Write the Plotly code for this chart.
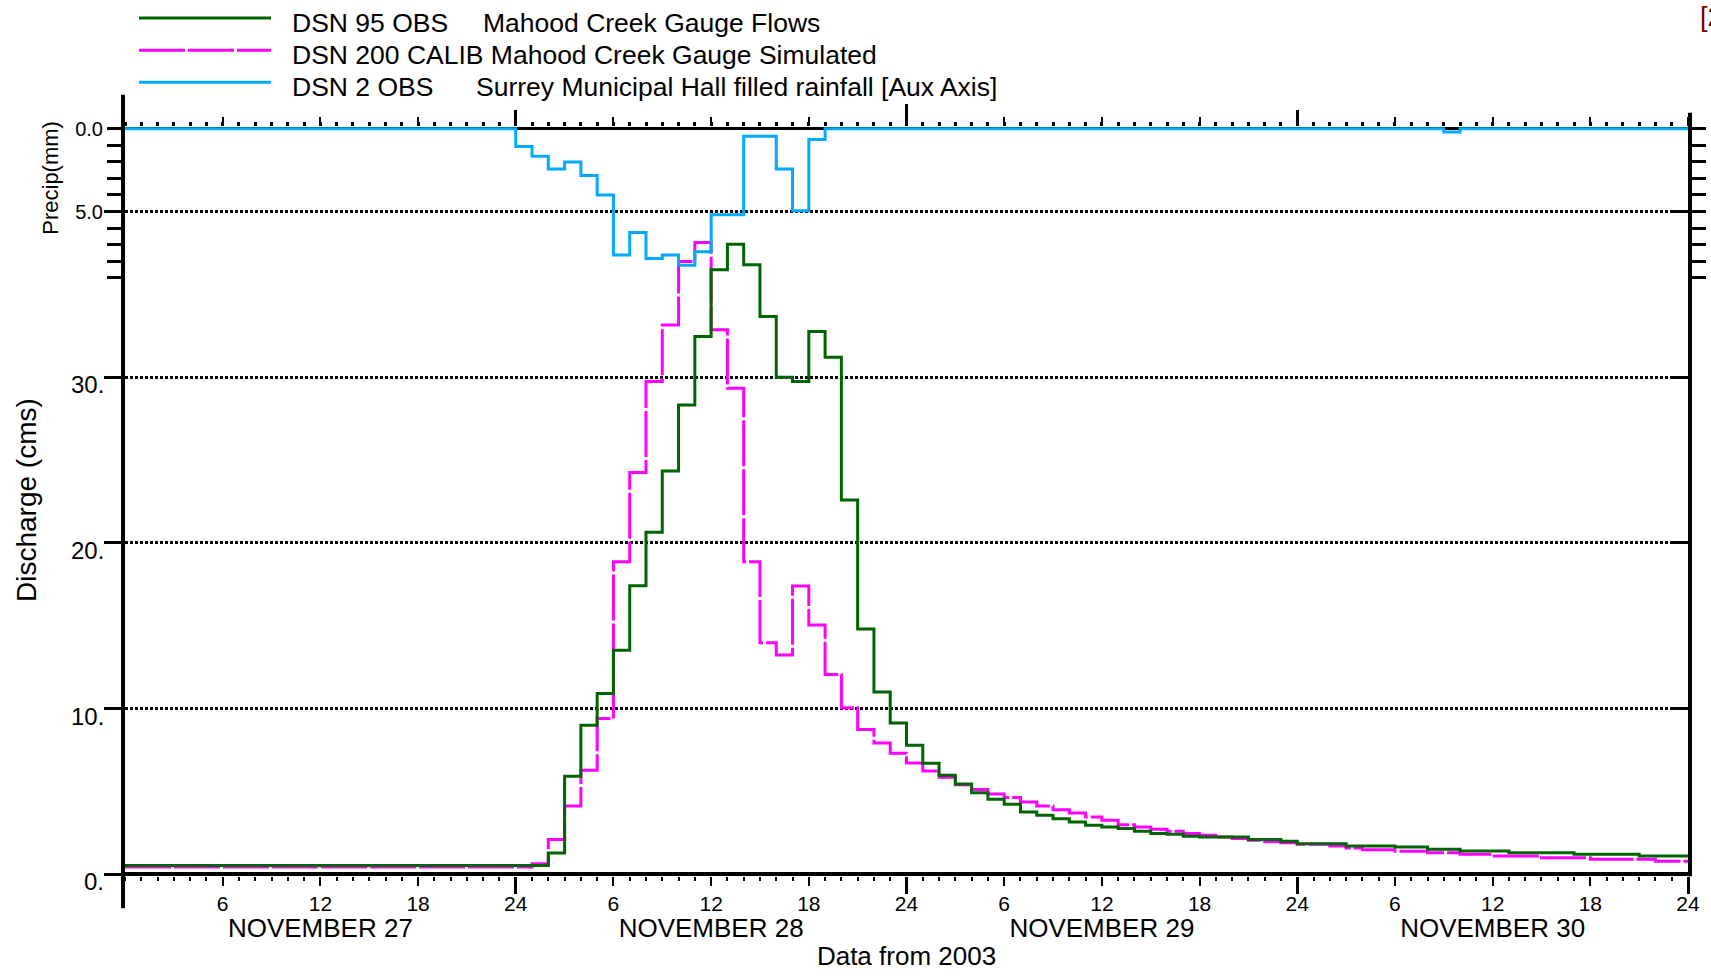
import plotly.graph_objects as go

# ---------------- data (hourly, Nov 27 00:00 -> Nov 30 24:00, 2003) ----------------
hour_edges = list(range(0, 97))  # start of each hourly interval + final edge

obs_flow = [  # DSN 95 OBS  Mahood Creek Gauge Flows (cms)
    0.54, 0.54, 0.54, 0.54, 0.54, 0.54, 0.54, 0.54, 0.54, 0.54, 0.54, 0.54,
    0.54, 0.54, 0.54, 0.54, 0.54, 0.54, 0.54, 0.54, 0.54, 0.54, 0.54, 0.54,
    0.54, 0.54, 1.29, 5.92, 9.00, 10.91, 13.53, 17.42, 20.64, 24.34, 28.33, 32.45,
    36.48, 38.03, 36.78, 33.66, 30.00, 29.74, 32.76, 31.20, 22.59, 14.80, 11.00, 9.14,
    7.79, 6.70, 5.98, 5.45, 4.92, 4.53, 4.23, 3.76, 3.56, 3.36, 3.16, 2.96,
    2.86, 2.76, 2.60, 2.46, 2.42, 2.30, 2.26, 2.26, 2.26, 2.10, 2.10, 2.00,
    1.85, 1.85, 1.85, 1.71, 1.71, 1.71, 1.65, 1.65, 1.51, 1.51, 1.41, 1.41,
    1.41, 1.31, 1.31, 1.31, 1.31, 1.21, 1.21, 1.21, 1.21, 1.11, 1.11, 1.11,
]

sim_flow = [  # DSN 200 CALIB Mahood Creek Gauge Simulated (cms)
    0.44, 0.44, 0.44, 0.44, 0.44, 0.44, 0.44, 0.44, 0.44, 0.44, 0.44, 0.44,
    0.44, 0.44, 0.44, 0.44, 0.44, 0.44, 0.44, 0.44, 0.44, 0.44, 0.44, 0.44,
    0.44, 0.64, 2.11, 4.13, 6.28, 9.40, 18.86, 24.25, 29.74, 33.15, 36.98, 38.13,
    32.86, 29.33, 18.86, 13.97, 13.23, 17.40, 15.04, 12.06, 10.05, 8.74, 7.93, 7.31,
    6.72, 6.23, 5.86, 5.40, 5.12, 4.85, 4.63, 4.37, 4.13, 3.90, 3.70, 3.46,
    3.26, 3.00, 2.86, 2.72, 2.60, 2.46, 2.36, 2.26, 2.16, 2.06, 1.97, 1.90,
    1.81, 1.81, 1.71, 1.59, 1.49, 1.49, 1.39, 1.39, 1.31, 1.31, 1.21, 1.21,
    1.11, 1.11, 1.11, 1.00, 1.00, 1.00, 0.91, 0.91, 0.91, 0.91, 0.79, 0.79,
]

rain_mm = [  # DSN 2 OBS  Surrey Municipal Hall filled rainfall (mm)
    0, 0, 0, 0, 0, 0, 0, 0, 0, 0, 0, 0,
    0, 0, 0, 0, 0, 0, 0, 0, 0, 0, 0, 0,
    1.07, 1.67, 2.44, 2.01, 2.82, 4.00, 7.63, 6.26, 7.83, 7.63, 8.24, 7.43,
    5.19, 5.19, 0.46, 0.46, 2.44, 4.95, 0.66, 0, 0, 0, 0, 0,
    0, 0, 0, 0, 0, 0, 0, 0, 0, 0, 0, 0,
    0, 0, 0, 0, 0, 0, 0, 0, 0, 0, 0, 0,
    0, 0, 0, 0, 0, 0, 0, 0, 0, 0.20, 0, 0,
    0, 0, 0, 0, 0, 0, 0, 0, 0, 0, 0, 0,
]

series_names = [
    ("DSN 95 OBS", "Mahood Creek Gauge Flows"),
    ("DSN 200 CALIB Mahood Creek Gauge Simulated", ""),
    ("DSN 2 OBS", "Surrey Municipal Hall filled rainfall [Aux Axis]"),
]
hour_ticks = [6, 12, 18, 24, 30, 36, 42, 48, 54, 60, 66, 72, 78, 84, 90, 96]
hour_tick_text = ["6", "12", "18", "24"] * 4
day_ticks = [12, 36, 60, 84]
day_labels = ["NOVEMBER 27", "NOVEMBER 28", "NOVEMBER 29", "NOVEMBER 30"]
q_ticks = [0, 10, 20, 30]
q_tick_text = ["0.", "10.", "20.", "30."]
p_ticks = [0, 1, 2, 3, 4, 5, 6, 7, 8, 9]
p_tick_text = ["0.0", "", "", "", "", "5.0", "", "", "", ""]

# ---------------- styling ----------------
FONT = "Liberation Sans, Arial, Helvetica, sans-serif"
GREEN = "#006400"
MAGENTA = "#FF00FF"
BLUE = "#00AAFF"
DASH = "46px,3px"
W, H = 1711, 976
L, R, T, B = 125, 23, 127.3, 100.3
PW, PH = W - L - R, H - T - B


def px(x):
    return (x - L) / PW


def py(y):
    return (H - B - y) / PH


def ext(v):
    return list(v) + [v[-1]]


fig = go.Figure()
fig.add_trace(go.Scatter(x=hour_edges, y=ext(sim_flow), mode="lines", line_shape="hv",
                         name=series_names[1][0],
                         line=dict(color=MAGENTA, width=3, dash=DASH), xaxis="x", yaxis="y"))
fig.add_trace(go.Scatter(x=hour_edges, y=ext(obs_flow), mode="lines", line_shape="hv",
                         name=" ".join(series_names[0]),
                         line=dict(color=GREEN, width=3), xaxis="x", yaxis="y"))
fig.add_trace(go.Scatter(x=hour_edges, y=ext(rain_mm), mode="lines", line_shape="hv",
                         name=" ".join(series_names[2]),
                         line=dict(color=BLUE, width=3), xaxis="x", yaxis="y2"))

base_x = dict(range=[0, 96], showgrid=False, zeroline=False, showline=False, automargin=False,
              fixedrange=True)
Q_RANGE = [-0.1, 45.1]
P_RANGE = [45.1, -0.1]

fig.update_layout(
    width=W, height=H, autosize=False,
    margin=dict(l=L, r=R, t=T, b=B, pad=0),
    paper_bgcolor="white", plot_bgcolor="white",
    showlegend=False,
    font=dict(family=FONT, color="black"),
    xaxis=dict(**base_x, anchor="y", side="bottom",
               tickmode="array", tickvals=hour_ticks, ticktext=hour_tick_text,
               ticks="outside", ticklen=9, tickwidth=2, tickcolor="black",
               tickfont=dict(size=21), ticklabelstandoff=0,
               minor=dict(tickmode="linear", tick0=0, dtick=1, ticks="outside",
                          ticklen=4, tickwidth=2, tickcolor="black")),
    xaxis2=dict(**base_x, overlaying="x", anchor="y", side="bottom",
                tickmode="array", tickvals=[24, 48, 72, 96], ticks="outside",
                ticklen=17, tickwidth=3, tickcolor="black", showticklabels=False),
    xaxis3=dict(**base_x, overlaying="x", anchor="y", side="bottom",
                tickmode="array", tickvals=day_ticks, ticktext=day_labels, ticks="",
                tickfont=dict(size=26), ticklabelstandoff=34,
                title=dict(text="Data from 2003", font=dict(size=26), standoff=4)),
    xaxis4=dict(**base_x, overlaying="x", anchor="y", side="top",
                tickmode="array", tickvals=hour_ticks, ticks="outside",
                ticklen=9, tickwidth=2, tickcolor="black", showticklabels=False,
                minor=dict(tickmode="linear", tick0=0, dtick=1, ticks="outside",
                           ticklen=4, tickwidth=3, tickcolor="black")),
    xaxis5=dict(**base_x, overlaying="x", anchor="y", side="top",
                tickmode="array", tickvals=[24, 72], ticks="outside",
                ticklen=16, tickwidth=3, tickcolor="black", showticklabels=False),
    xaxis6=dict(**base_x, overlaying="x", anchor="y", side="top",
                tickmode="array", tickvals=[48], ticks="outside",
                ticklen=22, tickwidth=3, tickcolor="black", showticklabels=False),
    yaxis=dict(range=Q_RANGE, anchor="x", side="left", automargin=False, fixedrange=True,
               showline=True, linewidth=4, linecolor="black",
               tickmode="array", tickvals=q_ticks + [40], ticks="outside",
               ticklen=17, tickwidth=3, tickcolor="black", showticklabels=False,
               showgrid=True, gridcolor="black", gridwidth=2.5, griddash="3px,2px",
               zeroline=True, zerolinecolor="black", zerolinewidth=4),
    yaxis2=dict(range=P_RANGE, overlaying="y", anchor="x", side="left", automargin=False,
                fixedrange=True, showline=False, showgrid=False,
                tickmode="array", tickvals=p_ticks, ticktext=p_tick_text,
                ticks="outside", ticklen=17, tickwidth=3, tickcolor="black",
                tickfont=dict(size=20),
                zeroline=True, zerolinecolor="black", zerolinewidth=3),
    yaxis3=dict(range=Q_RANGE, overlaying="y", anchor="x", side="right", automargin=False,
                fixedrange=True, showline=True, linewidth=4, linecolor="black",
                showgrid=False, zeroline=False,
                tickmode="array", tickvals=[10, 20, 30, 40], ticks="inside",
                ticklen=17, tickwidth=3, tickcolor="black", showticklabels=False),
    yaxis4=dict(range=P_RANGE, overlaying="y", anchor="x", side="right", automargin=False,
                fixedrange=True, showline=False, showgrid=False, zeroline=False,
                tickmode="array", tickvals=p_ticks, ticks="outside",
                ticklen=17, tickwidth=3, tickcolor="black", showticklabels=False),
)

# invisible traces to activate overlay axes
for ax in ["x2", "x3", "x4", "x5", "x6"]:
    fig.add_trace(go.Scatter(x=[None], y=[None], xaxis=ax, yaxis="y", showlegend=False,
                             hoverinfo="skip"))
for ay in ["y3", "y4"]:
    fig.add_trace(go.Scatter(x=[None], y=[None], xaxis="x", yaxis=ay, showlegend=False,
                             hoverinfo="skip"))

annotations = []
# discharge tick labels (top-aligned with their ticks)
for v, t in zip(q_ticks, q_tick_text):
    annotations.append(dict(xref="paper", x=0, xanchor="right", xshift=-19,
                            yref="y", y=v, yanchor="top", yshift=8,
                            text=t, showarrow=False, font=dict(size=24)))
annotations.append(dict(xref="paper", x=px(27), yref="paper", y=py(500), text="Discharge (cms)",
                        textangle=-90, showarrow=False, font=dict(size=28),
                        xanchor="center", yanchor="middle"))
annotations.append(dict(xref="paper", x=px(51), yref="paper", y=py(178), text="Precip(mm)",
                        textangle=-90, showarrow=False, font=dict(size=22),
                        xanchor="center", yanchor="middle"))

# legend (manual, to reproduce long sample lines)
shapes = []
legend_rows = [(18.3, 23, GREEN, "solid", 481), (50.7, 55, MAGENTA, DASH, None),
               (82.7, 87, BLUE, "solid", 474)]
for (ly, ty, col, dash, x2), (t1, t2) in zip(legend_rows, series_names):
    shapes.append(dict(type="line", xref="paper", yref="paper", x0=px(139), x1=px(271),
                       y0=py(ly), y1=py(ly), line=dict(color=col, width=3, dash=dash)))
    annotations.append(dict(xref="paper", x=px(290), yref="paper", y=py(ty), text=t1,
                            xanchor="left", yanchor="middle", showarrow=False,
                            font=dict(size=26.5)))
    if t2:
        annotations.append(dict(xref="paper", x=px(x2), yref="paper", y=py(ty), text=t2,
                                xanchor="left", yanchor="middle", showarrow=False,
                                font=dict(size=26.5)))

# small clipped marker at top-right corner
annotations.append(dict(xref="paper", x=px(1698), yref="paper", y=py(0), text="[2]",
                        xanchor="left", yanchor="top", showarrow=False,
                        font=dict(size=27, color="#7A0000")))

# axis line extensions
shapes.append(dict(type="line", xref="paper", yref="paper", x0=px(123), x1=px(123),
                   y0=py(95), y1=py(908), line=dict(color="black", width=4)))
shapes.append(dict(type="line", xref="paper", yref="paper", x0=px(1690), x1=px(1690),
                   y0=py(113), y1=py(876), line=dict(color="black", width=4)))

fig.update_layout(annotations=annotations, shapes=shapes)

fig.write_html("out.html", config={"displayModeBar": False},
               post_script="document.body.style.margin='0';document.body.style.overflow='hidden';")
